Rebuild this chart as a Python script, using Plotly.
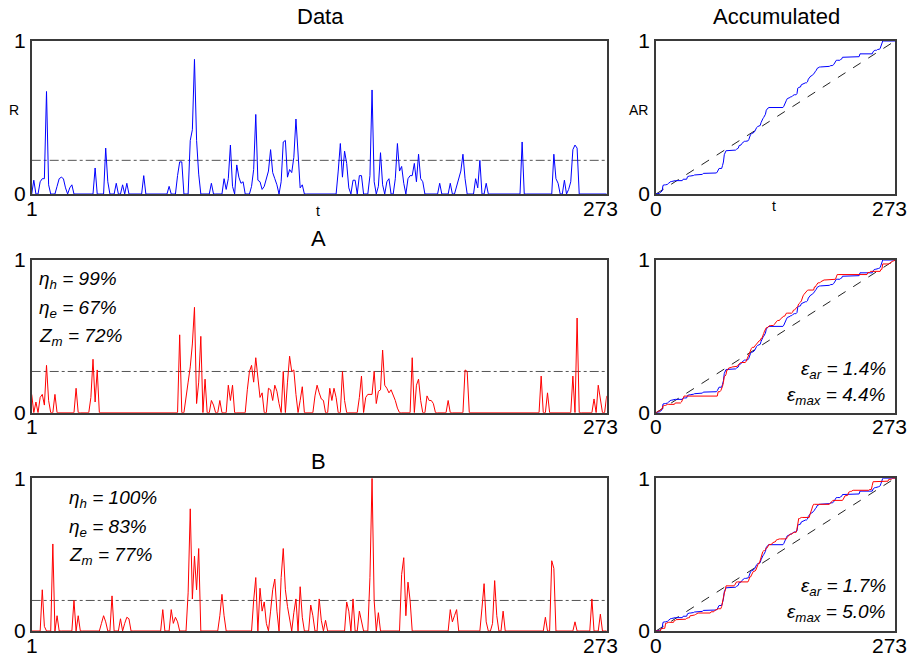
import numpy as np
import plotly.graph_objects as go

N = 273
t = list(range(1, N + 1))

# Reference record R (blue)
R = [0, 0.09, 0, 0, 0.08, 0.10, 0.10, 0.67, 0.06, 0,
     0, 0, 0.05, 0.10, 0.11, 0.10, 0.04, 0, 0.04, 0.06,
     0, 0, 0, 0, 0, 0, 0, 0, 0, 0,
     0.17, 0, 0, 0, 0, 0.30, 0.08, 0, 0, 0,
     0.07, 0, 0, 0.06, 0, 0.07, 0, 0, 0, 0,
     0, 0, 0, 0.12, 0, 0, 0, 0, 0, 0,
     0, 0, 0, 0, 0, 0.05, 0, 0, 0, 0.12,
     0.21, 0.21, 0, 0, 0, 0.35, 0.42, 0.88, 0.35, 0.13,
     0, 0, 0, 0, 0, 0.07, 0, 0, 0, 0,
     0, 0.10, 0.03, 0.10, 0.32, 0.05, 0, 0.19, 0.11, 0.07,
     0.08, 0, 0, 0, 0.05, 0.16, 0.52, 0.09, 0.08, 0.03,
     0.05, 0.10, 0.15, 0.29, 0.14, 0.10, 0.06, 0, 0.08, 0.34,
     0.35, 0.11, 0.16, 0.14, 0.24, 0.49, 0.22, 0.04, 0.06, 0,
     0, 0, 0, 0, 0, 0, 0, 0, 0, 0,
     0, 0, 0, 0, 0, 0.15, 0.33, 0.11, 0.28, 0.20,
     0.04, 0, 0.09, 0.09, 0, 0.12, 0.12, 0, 0, 0,
     0.12, 0.68, 0.08, 0, 0.05, 0.27, 0.06, 0, 0.08, 0.10,
     0, 0, 0.10, 0.33, 0.15, 0.18, 0.07, 0, 0.10, 0.12,
     0.12, 0.20, 0.08, 0.26, 0.10, 0.08, 0, 0, 0, 0,
     0, 0, 0, 0.07, 0, 0, 0, 0, 0.07, 0,
     0, 0.05, 0.10, 0.15, 0.26, 0.10, 0, 0, 0, 0,
     0.10, 0.04, 0.22, 0, 0, 0.07, 0, 0, 0, 0,
     0, 0, 0, 0, 0, 0, 0, 0, 0, 0,
     0, 0, 0.34, 0, 0, 0, 0, 0, 0, 0,
     0, 0, 0, 0, 0, 0, 0, 0.26, 0.10, 0.07,
     0, 0, 0.09, 0, 0.03, 0.08, 0.29, 0.32, 0.30, 0,
     0, 0, 0, 0, 0, 0, 0, 0, 0, 0,
     0, 0, 0]

# Model A (red)
A = [0.12, 0, 0.07, 0, 0.10, 0.12, 0.05, 0.31, 0.08, 0,
     0, 0.12, 0, 0, 0, 0, 0, 0, 0, 0,
     0, 0.16, 0, 0, 0, 0, 0, 0, 0.10, 0.35,
     0.07, 0.28, 0, 0, 0, 0, 0, 0, 0, 0,
     0, 0, 0, 0, 0, 0, 0, 0, 0, 0,
     0, 0, 0, 0, 0, 0, 0, 0, 0, 0,
     0, 0, 0, 0, 0, 0, 0, 0, 0, 0,
     0.51, 0, 0, 0.12, 0.20, 0.30, 0.45, 0.69, 0.06, 0.20,
     0.50, 0, 0.22, 0, 0, 0.08, 0.05, 0, 0, 0.08,
     0, 0, 0, 0.18, 0.08, 0.18, 0, 0, 0, 0,
     0, 0, 0.15, 0.27, 0.31, 0.20, 0.36, 0.24, 0.10, 0.13,
     0, 0, 0.16, 0.15, 0.08, 0.18, 0.14, 0.06, 0, 0.27,
     0, 0.20, 0.37, 0.27, 0.28, 0.12, 0, 0.08, 0.17, 0,
     0, 0, 0, 0, 0.11, 0.18, 0.13, 0.09, 0.08, 0,
     0, 0.16, 0.08, 0.16, 0.10, 0, 0, 0.27, 0.08, 0,
     0, 0, 0, 0, 0, 0.10, 0.24, 0, 0.10, 0.12,
     0.12, 0.12, 0.27, 0.06, 0.14, 0.15, 0.41, 0.18, 0.16, 0.13,
     0.15, 0.12, 0.08, 0.03, 0, 0, 0, 0, 0, 0,
     0.36, 0, 0.18, 0.22, 0.08, 0, 0, 0.11, 0.08, 0.08,
     0.06, 0, 0, 0, 0, 0, 0, 0.08, 0, 0,
     0, 0, 0, 0, 0, 0.28, 0.27, 0, 0, 0,
     0, 0, 0, 0, 0, 0, 0, 0, 0, 0,
     0, 0, 0, 0, 0, 0, 0, 0, 0, 0,
     0, 0, 0, 0, 0, 0, 0, 0, 0, 0,
     0, 0.24, 0, 0, 0.13, 0, 0, 0, 0, 0,
     0, 0, 0, 0, 0, 0, 0.24, 0, 0.62, 0,
     0, 0, 0, 0, 0, 0, 0.09, 0, 0.18, 0.08,
     0, 0, 0.11]

# Model B (red)
B = [0, 0, 0, 0, 0, 0.27, 0.03, 0, 0, 0,
     0.57, 0, 0.10, 0, 0, 0, 0, 0, 0, 0,
     0.20, 0, 0.10, 0, 0, 0, 0, 0, 0, 0,
     0, 0, 0, 0.05, 0.10, 0.06, 0, 0, 0.23, 0,
     0, 0, 0.08, 0, 0.05, 0.09, 0.08, 0, 0, 0,
     0, 0, 0, 0, 0, 0, 0, 0, 0, 0,
     0, 0, 0.14, 0, 0, 0, 0.14, 0.05, 0.09, 0.06,
     0, 0, 0, 0, 0.25, 0.80, 0.21, 0.49, 0.27, 0.54,
     0, 0, 0, 0, 0, 0, 0, 0, 0, 0.10,
     0.24, 0.10, 0, 0, 0, 0, 0, 0, 0, 0,
     0, 0, 0, 0, 0, 0.20, 0.35, 0, 0.28, 0.13,
     0.19, 0.05, 0, 0.13, 0.27, 0.34, 0.13, 0, 0.35, 0.54,
     0.27, 0.16, 0.09, 0, 0.12, 0.21, 0, 0.29, 0.09, 0,
     0, 0, 0.17, 0.10, 0, 0, 0.21, 0.07, 0, 0.07,
     0, 0, 0, 0, 0, 0, 0, 0, 0, 0.19,
     0.13, 0, 0.21, 0, 0, 0.13, 0.07, 0, 0, 0,
     0.35, 1.00, 0.20, 0, 0.12, 0, 0, 0, 0, 0,
     0, 0, 0, 0, 0, 0.37, 0.48, 0.10, 0.32, 0.20,
     0, 0, 0, 0, 0, 0, 0, 0, 0, 0,
     0, 0, 0, 0, 0, 0, 0, 0, 0.14, 0.06,
     0.10, 0.14, 0, 0, 0, 0, 0, 0, 0, 0,
     0, 0, 0, 0.15, 0.31, 0.06, 0, 0, 0.05, 0.33,
     0.10, 0, 0, 0.13, 0, 0, 0, 0, 0, 0,
     0, 0, 0, 0, 0, 0, 0, 0, 0, 0,
     0, 0, 0, 0.09, 0, 0, 0.46, 0.41, 0, 0,
     0, 0, 0, 0, 0, 0, 0, 0.06, 0, 0,
     0, 0, 0, 0, 0, 0.21, 0, 0, 0, 0.11,
     0, 0, 0]

thresholds = [0.22, 0.27, 0.20]
stats_A = ["99%", "67%", "72%"]
stats_B = ["100%", "83%", "77%"]
err_A = ["1.4%", "4.4%"]
err_B = ["1.7%", "5.0%"]


def accumulated(values):
    c = np.cumsum(values)
    return [0.0] + list(c / c[-1])


FONT = "Liberation Sans, Arial, sans-serif"
BLUE = "#0000ff"
RED = "#ff0000"
FRAME = "#3a3a3a"

W, H = 915, 660
left_x = [31.7 / W, 606.7 / W]
right_x = [656 / W, 895 / W]
rows_px = [(41, 194), (260, 412.7), (478.3, 631)]
rows_y = [[1 - b / H, 1 - a / H] for a, b in rows_px]

fig = go.Figure()
layout = dict(
    width=W, height=H,
    margin=dict(l=0, r=0, t=0, b=0, autoexpand=False),
    paper_bgcolor="white", plot_bgcolor="white",
    showlegend=False,
    font=dict(family=FONT, color="black"),
)


def axis_common():
    return dict(showgrid=False, zeroline=False, showline=True, mirror=True,
                linecolor=FRAME, linewidth=1.5, ticks="", automargin=False,
                tickfont=dict(size=21, family=FONT, color="black"))


series_rows = [[R], [R, A], [R, B]]
data_rows = [R, A, B]
x_acc = list(range(0, N + 1))

for r in range(3):
    li = 2 * r + 1
    ri = 2 * r + 2
    sfx = '' if li == 1 else str(li)
    layout[f"xaxis{sfx}"] = dict(axis_common(), domain=left_x, range=[1, N], anchor=f"y{sfx}",
                                 showticklabels=False)
    layout[f"yaxis{sfx}"] = dict(axis_common(), domain=rows_y[r], range=[0, 1], anchor=f"x{sfx}",
                                 tickvals=[0, 1], ticktext=["0", "1"])
    layout[f"xaxis{ri}"] = dict(axis_common(), domain=right_x, range=[0, N], anchor=f"y{ri}",
                                showticklabels=False)
    layout[f"yaxis{ri}"] = dict(axis_common(), domain=rows_y[r], range=[0, 1], anchor=f"x{ri}",
                                tickvals=[0, 1], ticktext=["0", "1"])

    lx, ly = f"x{sfx}", f"y{sfx}"
    # threshold line
    fig.add_trace(go.Scatter(x=[1, N], y=[thresholds[r]] * 2, mode="lines", xaxis=lx, yaxis=ly,
                             line=dict(color="#555555", width=1, dash="dashdot"), hoverinfo="skip"))
    fig.add_trace(go.Scatter(x=t, y=data_rows[r], mode="lines", xaxis=lx, yaxis=ly,
                             line=dict(color=BLUE if r == 0 else RED, width=1)))

    # accumulated panel
    fig.add_trace(go.Scatter(x=[0, N], y=[0, 1], mode="lines", xaxis=f"x{ri}", yaxis=f"y{ri}",
                             line=dict(color="#222222", width=1, dash="dash"), hoverinfo="skip"))
    for k, s in enumerate(series_rows[r]):
        fig.add_trace(go.Scatter(x=x_acc, y=accumulated(s), mode="lines", xaxis=f"x{ri}", yaxis=f"y{ri}",
                                 line=dict(color=BLUE if k == 0 else RED, width=1)))

fig.update_layout(**layout)


def px_ann(text, x, y, size=20, xanchor="center", yanchor="middle"):
    fig.add_annotation(text=text, x=x / W, y=1 - y / H, xref="paper", yref="paper",
                       xanchor=xanchor, yanchor=yanchor, showarrow=False,
                       font=dict(size=size, family=FONT, color="black"))


# x tick labels under each panel
for a, b in rows_px:
    yl = b + 14
    px_ann("1", 32, yl, size=21)
    px_ann(str(N), 600, yl, size=21)
    px_ann("0", 656, yl, size=21)
    px_ann(str(N), 889, yl, size=21)

# titles
px_ann("Data", 320, 16, size=22)
px_ann("Accumulated", 776, 16, size=22)
px_ann("A", 318, 238, size=22)
px_ann("B", 318, 462, size=22)

# axis names
px_ann("R", 14, 110, size=14)
px_ann("t", 318, 211, size=14)
px_ann("AR", 638, 110, size=14)
px_ann("t", 774, 206, size=14)

# model statistics
names = ["η<sub>h</sub>", "η<sub>e</sub>", "Z<sub>m</sub>"]
for i, (nm, v) in enumerate(zip(names, stats_A)):
    px_ann(f"<i>{nm} = {v}</i>", 37, 280 + 28.5 * i, size=19, xanchor="left")
for i, (nm, v) in enumerate(zip(names, stats_B)):
    px_ann(f"<i>{nm} = {v}</i>", 67, 499 + 28.5 * i, size=19, xanchor="left")

enames = ["ε<sub>ar</sub>", "ε<sub>max</sub>"]
for i, (nm, v) in enumerate(zip(enames, err_A)):
    px_ann(f"<i>{nm} = {v}</i>", 888, 370 + 26 * i, size=19, xanchor="right")
for i, (nm, v) in enumerate(zip(enames, err_B)):
    px_ann(f"<i>{nm} = {v}</i>", 888, 587 + 26 * i, size=19, xanchor="right")

fig.write_html("out.html")
